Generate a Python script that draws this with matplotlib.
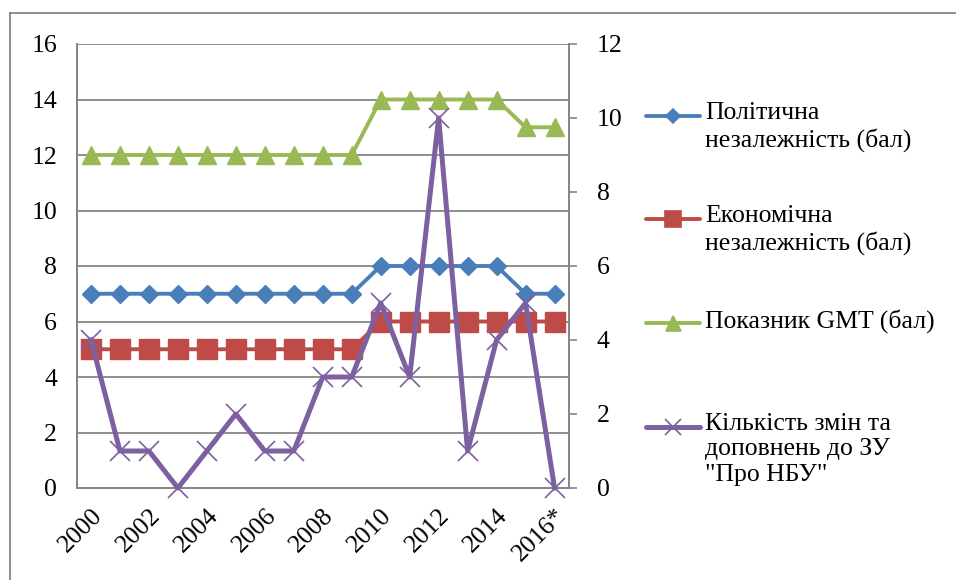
import matplotlib
matplotlib.use("Agg")
import matplotlib.pyplot as plt
from matplotlib.lines import Line2D
from matplotlib import font_manager
from matplotlib.font_manager import FontProperties

cands = [f for f in font_manager.fontManager.ttflist
         if f.name == 'Liberation Serif' and f.style == 'normal' and f.weight in (400, 'normal', 'regular')]
FS = 18.5
if cands:
    FP = FontProperties(fname=cands[0].fname, size=FS)
else:
    FP = FontProperties(family='DejaVu Serif', size=FS)

years = ['2000', '2001', '2002', '2003', '2004', '2005', '2006', '2007', '2008',
         '2009', '2010', '2011', '2012', '2013', '2014', '2015', '2016*']
political = [7, 7, 7, 7, 7, 7, 7, 7, 7, 7, 8, 8, 8, 8, 8, 7, 7]
economic = [5, 5, 5, 5, 5, 5, 5, 5, 5, 5, 6, 6, 6, 6, 6, 6, 6]
gmt = [12, 12, 12, 12, 12, 12, 12, 12, 12, 12, 14, 14, 14, 14, 14, 13, 13]
changes = [4, 1, 1, 0, 1, 2, 1, 1, 3, 3, 5, 3, 10, 1, 4, 5, 0]
labels = ['Політична\nнезалежність (бал)', 'Економічна\nнезалежність (бал)',
          'Показник GMT (бал)', 'Кількість змін та\nдоповнень до ЗУ\n"Про НБУ"']

blue, red, green, purple = '#4A7EBB', '#BE4B48', '#98B954', '#7D60A0'
grid_c = '#868686'

fig = plt.figure(figsize=(9.56, 5.8), dpi=100)
ax = fig.add_axes([76.5/956, 1-488/580, (569-76.5)/956, (488-44)/580])
ax2 = ax.twinx()

x = list(range(len(years)))
ax.plot(x, political, color=blue, lw=2.8, marker='D', ms=9.3, mfc=blue, mec=blue, zorder=3)
ax.plot(x, economic, color=red, lw=2.8, marker='s', ms=14, mfc=red, mec=red, zorder=3)
ax.plot(x, gmt, color=green, lw=2.8, marker='^', ms=13.5, mfc=green, mec=green, zorder=3)
ax2.plot(x, changes, color=purple, lw=3.6, marker='x', ms=15, mec=purple, mew=1.2, zorder=3, clip_on=False)

ax.set_xlim(-0.5, len(years) - 0.5)
ax.set_ylim(0, 16)
ax.set_yticks(range(0, 17, 2))
ax2.set_ylim(0, 12)
ax2.set_yticks(range(0, 13, 2))
ax.set_xticks(x[::2])
ax.set_xticklabels(years[::2], rotation=45, ha='right', rotation_mode='anchor', fontproperties=FP)
ax.set_yticklabels([str(v) for v in range(0, 17, 2)], fontproperties=FP)
ax2.set_yticklabels([str(v) for v in range(0, 13, 2)], fontproperties=FP)
ax.tick_params(axis='x', length=0, pad=12)
ax.tick_params(axis='y', length=0, pad=14)
ax2.tick_params(axis='y', length=6, width=1.2, color=grid_c, pad=14, direction='out')

ax.yaxis.grid(True, color=grid_c, lw=1.3)
ax.set_axisbelow(True)
for a in (ax, ax2):
    a.spines['top'].set_visible(False)
    for s in ('left', 'right', 'bottom'):
        a.spines[s].set_color(grid_c)
        a.spines[s].set_linewidth(1.3)

# outer chart border
fig.add_artist(Line2D([10/956, 1.0], [1-13/580, 1-13/580], color=grid_c, lw=1.3))
fig.add_artist(Line2D([10/956, 10/956], [1-13/580, 0.0], color=grid_c, lw=1.3))

# legend
styles = [(blue, 'D', 9.3, 2.8), (red, 's', 14, 2.8), (green, '^', 13.5, 2.8), (purple, 'x', 15, 3.6)]
ys = [116, 219, 323, 427]
for (c, m, ms, lw), yy, lab in zip(styles, ys, labels):
    yf = 1 - yy/580
    fig.add_artist(Line2D([646/956, 700/956], [yf, yf], color=c, lw=lw, solid_capstyle='round'))
    fig.add_artist(Line2D([673/956], [yf], color=c, marker=m, ms=ms*0.8, mfc=c, mec=c, mew=1.2, lw=0))
    fig.text(705/956, yf + 14/580, lab, va='top', ha='left', linespacing=1.2, fontproperties=FP)

fig.savefig('out.png', dpi=100)
